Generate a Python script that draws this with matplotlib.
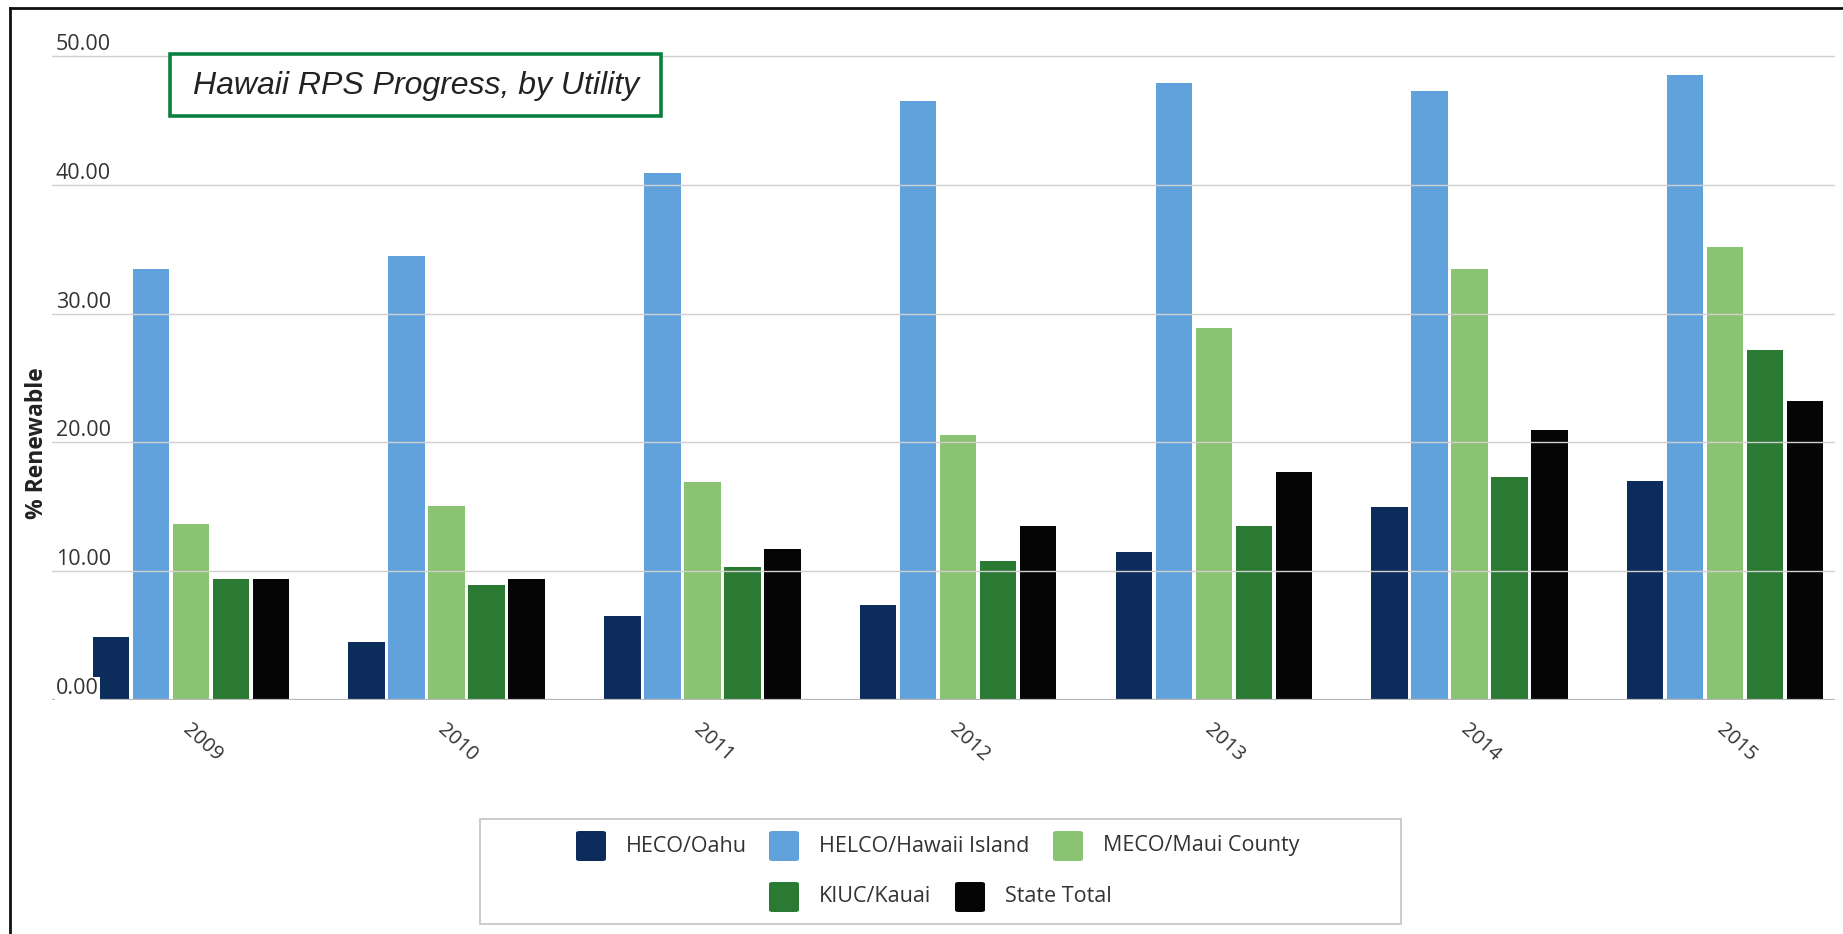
import numpy as np
import matplotlib
matplotlib.use("Agg")
import matplotlib.pyplot as plt
from matplotlib.patches import Rectangle, FancyBboxPatch
from matplotlib.lines import Line2D

W, H = 1843, 934

years = ["2009", "2010", "2011", "2012", "2013", "2014", "2015"]
heco = [4.9, 4.5, 6.5, 7.4, 11.5, 15.0, 17.0]
helco = [33.5, 34.5, 40.9, 46.5, 47.9, 47.3, 48.5]
meco = [13.7, 15.1, 16.9, 20.6, 28.9, 33.5, 35.2]
kiuc = [9.4, 8.9, 10.3, 10.8, 13.5, 17.3, 27.2]
state = [9.4, 9.4, 11.7, 13.5, 17.7, 21.0, 23.2]

series_names = ["HECO/Oahu", "HELCO/Hawaii Island", "MECO/Maui County",
                "KIUC/Kauai", "State Total"]
series_vals = [heco, helco, meco, kiuc, state]
colors = ["#0c2d5c", "#62a2dc", "#8ac472", "#2a7a34", "#050505"]
yticks = [0, 10, 20, 30, 40, 50]


def fx(px):
    return px / W


def fy(py):
    return 1 - py / H


fig = plt.figure(figsize=(W / 100, H / 100), dpi=100)

# plot area: zero line at y=700px, 50 at y=56px
ppu = (700 - 56) / 50
ytop = 50.6
ax = fig.add_axes([fx(52), fy(700), fx(1835) - fx(52), ytop * ppu / H])
pitch = 255.7
x_left = (52 - 191) / pitch
x_right = (1835 - 191) / pitch
ax.set_xlim(x_left, x_right)
ax.set_ylim(0, ytop)
ax.axis("off")

x = np.arange(len(years))
step = 40 / pitch
width = 36.5 / pitch
for k, (vals, c) in enumerate(zip(series_vals, colors)):
    ax.bar(x + (k - 2) * step, vals, width=width, color=c, zorder=2)

for t in yticks[1:]:
    ax.axhline(t, color="#d0d0d0", lw=1.0, zorder=3)
ax.axhline(0, color="#b8b8b8", lw=1.6, zorder=3)

for t in yticks:
    ax.annotate(f"{t:.2f}", xy=(x_left, t), xytext=(4, 1), textcoords="offset pixels",
                ha="left", va="bottom", fontsize=15.5, color="#333333",
                family="Open Sans", zorder=4,
                bbox=dict(boxstyle="square,pad=0.05", fc="white", ec="none") if t == 0 else None)

for i, yr in enumerate(years):
    ax.annotate(yr, xy=(i, 0), xytext=(-6, -27), textcoords="offset pixels",
                ha="left", va="center", rotation=-42, rotation_mode="anchor",
                fontsize=14.5, color="#333333", family="Open Sans",
                annotation_clip=False)

fig.text(fx(37), fy(443), "% Renewable", rotation=90, ha="center", va="center",
         fontsize=16.5, fontweight="bold", color="#222222", family="Open Sans")

# title box
fig.add_artist(Rectangle((fx(170), fy(116)), fx(661) - fx(170), fy(54) - fy(116),
                         transform=fig.transFigure, fc="white", ec="#0b8040", lw=2.6,
                         zorder=5))
fig.text(fx(416), fy(86), "Hawaii RPS Progress, by Utility", ha="center", va="center",
         fontsize=23, style="italic", family="Liberation Sans", color="#222222", zorder=6)

# legend
fig.add_artist(Rectangle((fx(480), fy(924)), fx(1401) - fx(480), fy(819) - fy(924),
                         transform=fig.transFigure, fc="white", ec="#c4c4c4", lw=1.2))
legend_pos = [(576, 846), (769, 846), (1053, 846), (769, 897), (955, 897)]
for (px, py), name, c in zip(legend_pos, series_names, colors):
    fig.add_artist(FancyBboxPatch((fx(px), fy(py + 15)), fx(30), 30 / H,
                                  boxstyle="round,pad=0,rounding_size=0.002",
                                  transform=fig.transFigure, fc=c, ec="none"))
    fig.text(fx(px + 50), fy(py), name, ha="left", va="center", fontsize=15.5,
             family="Open Sans", color="#333333")

# page border
fig.add_artist(Line2D([fx(10), fx(10)], [0, fy(8)], color="#111111", lw=2))
fig.add_artist(Line2D([fx(10), 1], [fy(8), fy(8)], color="#111111", lw=2))

fig.savefig("out.png", dpi=100)
